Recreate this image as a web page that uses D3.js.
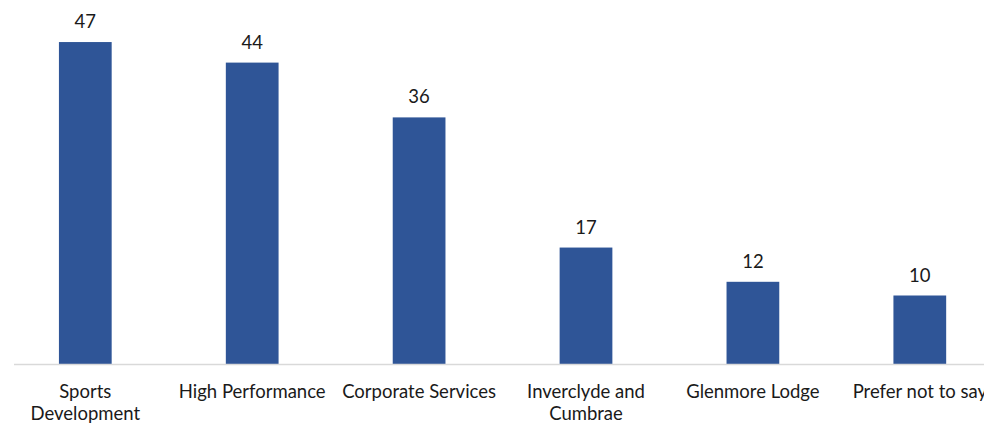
<!DOCTYPE html>
<html>
<head>
<meta charset="utf-8">
<script src="https://cdn.jsdelivr.net/npm/d3@7/dist/d3.min.js"></script>
<style>
  html, body { margin: 0; padding: 0; background: #ffffff; }
  svg { display: block; }
  text { font-family: Lato, "Open Sans", sans-serif; fill: #1a1a1a; }
</style>
</head>
<body>
<svg id="chart" width="984" height="425"></svg>
<script>
// Staff responses by business area
const categories = ["Sports Development", "High Performance", "Corporate Services",
                    "Inverclyde and Cumbrae", "Glenmore Lodge", "Prefer not to say"];
const values = [47, 44, 36, 17, 12, 10];
// Category labels split onto lines as they are shown under the axis
const tickLabels = [["Sports", "Development"], ["High Performance"], ["Corporate Services"],
                    ["Inverclyde and", "Cumbrae"], ["Glenmore Lodge"], ["Prefer not to say"]];

const svg = d3.select("#chart");
const baseY = 364;

const x = d3.scaleBand()
  .domain(categories)
  .range([1.85, 1003.25])
  .paddingInner(0.684)
  .paddingOuter(0.342);

const y = d3.scaleLinear()
  .domain([0, 50])
  .range([baseY, 21.5]);

// Bars
svg.append("g")
  .selectAll("rect")
  .data(values)
  .join("rect")
  .attr("x", (d, i) => x(categories[i]))
  .attr("y", d => y(d))
  .attr("width", x.bandwidth())
  .attr("height", d => y(0) - y(d))
  .attr("fill", "#2f5597");

// Baseline
svg.append("line")
  .attr("x1", 14).attr("x2", 1003)
  .attr("y1", y(0) + 0.5).attr("y2", y(0) + 0.5)
  .attr("stroke", "#d9d9d9")
  .attr("stroke-width", 1.5);

// Value labels above the bars
svg.append("g")
  .selectAll("text")
  .data(values)
  .join("text")
  .attr("x", (d, i) => x(categories[i]) + x.bandwidth() / 2)
  .attr("y", d => y(d) - 14)
  .attr("text-anchor", "middle")
  .attr("font-size", 18.5)
  .text(d => d);

// Category labels
const labels = svg.append("g")
  .selectAll("text")
  .data(categories)
  .join("text")
  .attr("x", d => x(d) + x.bandwidth() / 2)
  .attr("y", 397.5)
  .attr("text-anchor", "middle")
  .attr("font-size", 18.5);

labels.selectAll("tspan")
  .data((d, i) => tickLabels[i])
  .join("tspan")
  .attr("x", function () { return this.parentNode.getAttribute("x"); })
  .attr("dy", (d, j) => j === 0 ? 0 : 22.5)
  .text(d => d);
</script>
</body>
</html>
